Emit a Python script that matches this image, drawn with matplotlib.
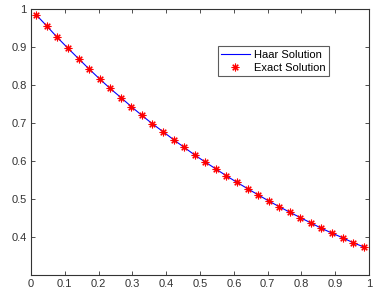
import matplotlib
matplotlib.use("Agg")
import matplotlib.pyplot as plt

# collocation points and values
x_pts = [0.016, 0.047, 0.078, 0.109, 0.141, 0.172, 0.203, 0.234,
         0.266, 0.297, 0.328, 0.359, 0.391, 0.422, 0.453, 0.484,
         0.516, 0.547, 0.578, 0.609, 0.641, 0.672, 0.703, 0.734,
         0.766, 0.797, 0.828, 0.859, 0.891, 0.922, 0.953, 0.984]
haar = [0.984, 0.955, 0.925, 0.897, 0.869, 0.842, 0.816, 0.791,
        0.767, 0.743, 0.720, 0.698, 0.677, 0.656, 0.636, 0.616,
        0.597, 0.579, 0.561, 0.544, 0.527, 0.511, 0.495, 0.480,
        0.465, 0.451, 0.437, 0.423, 0.410, 0.398, 0.385, 0.374]
exact = [0.984, 0.955, 0.925, 0.897, 0.869, 0.842, 0.816, 0.791,
         0.767, 0.743, 0.720, 0.698, 0.677, 0.656, 0.636, 0.616,
         0.597, 0.579, 0.561, 0.544, 0.527, 0.511, 0.495, 0.480,
         0.465, 0.451, 0.437, 0.423, 0.410, 0.398, 0.385, 0.374]
xticks = [0, 0.1, 0.2, 0.3, 0.4, 0.5, 0.6, 0.7, 0.8, 0.9, 1]
xlabels = ["0", "0.1", "0.2", "0.3", "0.4", "0.5", "0.6", "0.7", "0.8", "0.9", "1"]
yticks = [0.4, 0.5, 0.6, 0.7, 0.8, 0.9, 1]
ylabels = ["0.4", "0.5", "0.6", "0.7", "0.8", "0.9", "1"]

plt.rcParams['font.family'] = ['Liberation Sans', 'DejaVu Sans']

fig = plt.figure(figsize=(3.8, 2.94), dpi=100)
ax = fig.add_axes([0.0816, 0.0646, 0.8895, 0.9048])

ax.plot(x_pts, haar, color="blue", lw=0.8, label="Haar Solution")
# matlab style asterisk: plus and cross overlaid
ax.plot(x_pts, exact, ls="none", marker=(8, 2, 0), color="red", ms=5.5,
        mew=0.8, label="Exact Solution")

ax.set_xlim(0, 1)
ax.set_ylim(0.3, 1)
ax.set_xticks(xticks)
ax.set_xticklabels(xlabels)
ax.set_yticks(yticks)
ax.set_yticklabels(ylabels)
ax.tick_params(direction="in", top=True, right=True, length=3,
               labelsize=8, colors="#333333", width=0.6, pad=3)
for s in ax.spines.values():
    s.set_linewidth(0.8)
    s.set_color("#333333")

leg = ax.legend(loc="upper left", bbox_to_anchor=(0.552, 0.86),
                fontsize=8, frameon=True, fancybox=False,
                handlelength=2.6, borderpad=0.3, labelspacing=0.3,
                handletextpad=0.4, borderaxespad=0)
leg.get_frame().set_edgecolor("#333333")
leg.get_frame().set_linewidth(0.8)

fig.savefig("out.png", dpi=100)
